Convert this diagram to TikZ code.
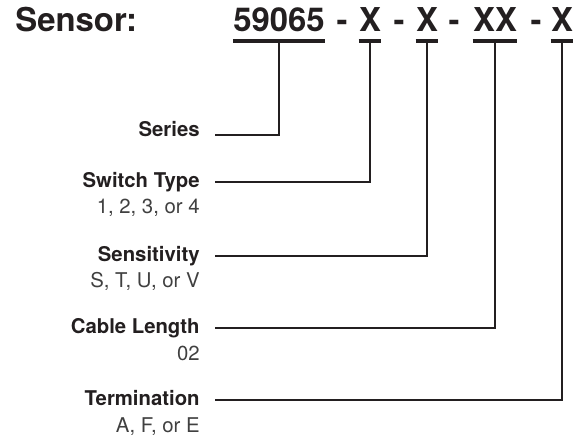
\documentclass[tikz,border=0pt]{standalone}
\usepackage{fontspec}
\setmainfont{TeX Gyre Heros}
\usetikzlibrary{positioning}
\definecolor{ink}{HTML}{231F20}
\definecolor{subink}{HTML}{404040}
\begin{document}
\begin{tikzpicture}[x=0.5bp, y=-0.5bp,
    part/.style={anchor=base, inner sep=0pt, font=\fontsize{16.5}{19}\selectfont\bfseries, text=ink},
    fieldname/.style={anchor=base east, inner sep=0pt, font=\fontsize{10.2}{12}\selectfont\bfseries, text=ink},
    fieldopts/.style={anchor=base east, inner sep=0pt, font=\fontsize{10.2}{12}\selectfont, text=subink},
    underbar/.style={line width=2.2bp, draw=ink},
    leader/.style={line width=1.3bp, draw=ink}]
    \useasboundingbox (0,0) rectangle (582,442);

    % Heading and part number
    \node[part, anchor=base west] (title) at (15,32) {Sensor:};
    \node[part] (pSeries) at (279,32) {59065};
    \node[part] (dashA) at (342,32) {-};
    \node[part] (pSwitch) at (370,32) {X};
    \node[part] (dashB) at (399,32) {-};
    \node[part] (pSens) at (427,32) {X};
    \node[part] (dashC) at (454,32) {-};
    \node[part] (pCable) at (495,32) {XX};
    \node[part] (dashD) at (536,32) {-};
    \node[part] (pTerm) at (562,32) {X};

    % Underlines
    \foreach \p in {pSeries, pSwitch, pSens, pCable, pTerm}
        \draw[underbar] ([yshift=-4.5bp]\p.base west) -- ([yshift=-4.5bp]\p.base east);

    % Field labels
    \node[fieldname] (series) at (200,137) {Series};
    \node[fieldname] (switch) at (200,188) {Switch Type};
    \node[fieldopts] (switchOpts) at (200,214) {1, 2, 3, or 4};
    \node[fieldname] (sens) at (200,262) {Sensitivity};
    \node[fieldopts] (sensOpts) at (200,288) {S, T, U, or V};
    \node[fieldname] (cable) at (200,334) {Cable Length};
    \node[fieldopts] (cableOpts) at (200,360) {02};
    \node[fieldname] (term) at (200,406) {Termination};
    \node[fieldopts] (termOpts) at (200,432) {A, F, or E};

    % Leaders
    \draw[leader] ([xshift=7.5bp, yshift=1bp]series.base east) -| ([yshift=-4.5bp]pSeries.base);
    \draw[leader] ([xshift=7.5bp, yshift=3bp]switch.base east) -| ([yshift=-4.5bp]pSwitch.base);
    \draw[leader] ([xshift=7.5bp, yshift=3bp]sens.base east) -| ([yshift=-4.5bp]pSens.base);
    \draw[leader] ([xshift=7.5bp, yshift=3bp]cable.base east) -| ([yshift=-4.5bp]pCable.base);
    \draw[leader] ([xshift=7.5bp, yshift=3bp]term.base east) -| ([yshift=-4.5bp]pTerm.base);
\end{tikzpicture}
\end{document}
